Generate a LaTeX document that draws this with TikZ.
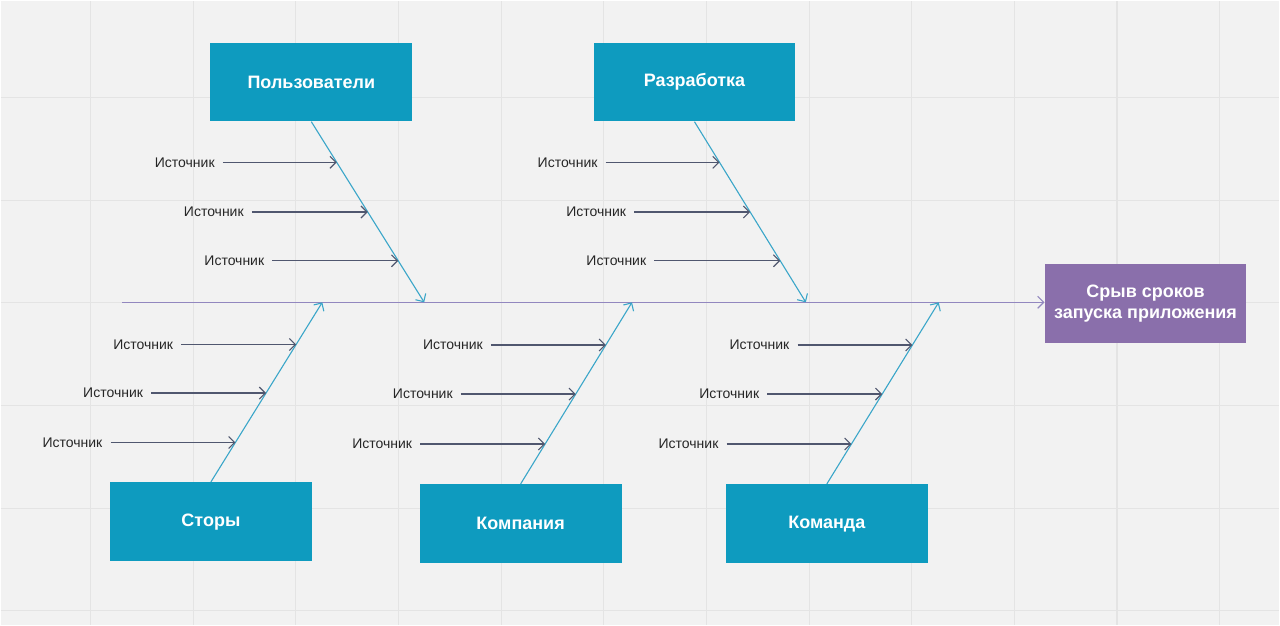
\documentclass[tikz,border=0pt]{standalone}
\usepackage{fontspec}
\setmainfont{Liberation Sans}
\usetikzlibrary{positioning,calc,arrows.meta}

\definecolor{canvas}{HTML}{F2F2F2}
\definecolor{gridgray}{HTML}{E4E4E4}
\definecolor{boxteal}{HTML}{0E9BBF}
\definecolor{boneteal}{HTML}{3AA6C9}
\definecolor{effectpurple}{HTML}{8A6FAB}
\definecolor{spinepurple}{HTML}{9287BF}
\definecolor{arrowslate}{HTML}{50576F}
\definecolor{labelgray}{HTML}{262626}

\tikzset{
  gridline/.style={draw=gridgray, line width=1.2pt},
  category/.style={fill=boxteal, text=white, font=\bfseries\fontsize{18}{21}\selectfont,
    minimum width=202pt, minimum height=79pt, inner sep=0pt, align=center},
  effect/.style={category, fill=effectpurple},
  source/.style={text=labelgray, font=\fontsize{14}{16}\selectfont, inner xsep=8pt, inner ysep=1pt},
  spine/.style={draw=spinepurple, line width=1.1pt, -{Straight Barb[length=6pt,width=12pt]}},
  bone/.style={draw=boneteal, line width=1.1pt, -{Straight Barb[length=6pt,width=12pt]}},
  cause/.style={draw=arrowslate, line width=1.1pt, -{Straight Barb[length=6pt,width=12pt]}}
}

\begin{document}
\begin{tikzpicture}[x=1pt, y=-1pt]
  \fill[canvas] (0,0) rectangle (1280,625);
  \begin{scope}[shift={(90,97)}]
    \draw[gridline, step=102.75pt] (-90,-97) grid (1190,528);
  \end{scope}
  \useasboundingbox (0,0) rectangle (1280,625);

  % categories and the problem
  \node[category] (users)   at (311,81.5)   {Пользователи};
  \node[category] (dev)     at (694.5,81.5) {Разработка};
  \node[category] (stores)  at (210.5,521.5) {Сторы};
  \node[category] (company) at (520.5,523.5) {Компания};
  \node[category] (team)    at (827,523.5)   {Команда};
  \node[effect]   (problem) at (1146,303.5)  {Срыв сроков\\запуска приложения};

  % spine
  \coordinate (tail) at (122,302);
  \draw[spine] (tail) -- (tail -| problem.west);

  % bones
  \coordinate (usersEnd)   at (424,302);
  \coordinate (devEnd)     at (806,302);
  \coordinate (storesEnd)  at (322,302);
  \coordinate (companyEnd) at (632,302);
  \coordinate (teamEnd)    at (939,302);
  \draw[bone] (users.south)   -- (usersEnd);
  \draw[bone] (dev.south)     -- (devEnd);
  \draw[bone] (stores.north)  -- (storesEnd);
  \draw[bone] (company.north) -- (companyEnd);
  \draw[bone] (team.north)    -- (teamEnd);

  % points on the bones
  \coordinate (u1) at ($(users.south)!0.225!(usersEnd)$);
  \coordinate (u2) at ($(users.south)!0.5!(usersEnd)$);
  \coordinate (u3) at ($(users.south)!0.77!(usersEnd)$);
  \coordinate (d1) at ($(dev.south)!0.225!(devEnd)$);
  \coordinate (d2) at ($(dev.south)!0.5!(devEnd)$);
  \coordinate (d3) at ($(dev.south)!0.77!(devEnd)$);
  \coordinate (s1) at ($(stores.north)!0.22!(storesEnd)$);
  \coordinate (s2) at ($(stores.north)!0.495!(storesEnd)$);
  \coordinate (s3) at ($(stores.north)!0.765!(storesEnd)$);
  \coordinate (c1) at ($(company.north)!0.22!(companyEnd)$);
  \coordinate (c2) at ($(company.north)!0.495!(companyEnd)$);
  \coordinate (c3) at ($(company.north)!0.765!(companyEnd)$);
  \coordinate (t1) at ($(team.north)!0.22!(teamEnd)$);
  \coordinate (t2) at ($(team.north)!0.495!(teamEnd)$);
  \coordinate (t3) at ($(team.north)!0.765!(teamEnd)$);

  % sources
  \node[source, left=114pt of u1] (u1src) {Источник};
  \node[source, left=116pt of u2] (u2src) {Источник};
  \node[source, left=126pt of u3] (u3src) {Источник};
  \node[source, left=114pt of d1] (d1src) {Источник};
  \node[source, left=116pt of d2] (d2src) {Источник};
  \node[source, left=126pt of d3] (d3src) {Источник};
  \node[source, left=125pt of s1] (s1src) {Источник};
  \node[source, left=115pt of s2] (s2src) {Источник};
  \node[source, left=115pt of s3] (s3src) {Источник};
  \node[source, left=125pt of c1] (c1src) {Источник};
  \node[source, left=115pt of c2] (c2src) {Источник};
  \node[source, left=115pt of c3] (c3src) {Источник};
  \node[source, left=125pt of t1] (t1src) {Источник};
  \node[source, left=115pt of t2] (t2src) {Источник};
  \node[source, left=115pt of t3] (t3src) {Источник};

  \draw[cause] (u1src) -- (u1);
  \draw[cause] (u2src) -- (u2);
  \draw[cause] (u3src) -- (u3);
  \draw[cause] (d1src) -- (d1);
  \draw[cause] (d2src) -- (d2);
  \draw[cause] (d3src) -- (d3);
  \draw[cause] (s1src) -- (s1);
  \draw[cause] (s2src) -- (s2);
  \draw[cause] (s3src) -- (s3);
  \draw[cause] (c1src) -- (c1);
  \draw[cause] (c2src) -- (c2);
  \draw[cause] (c3src) -- (c3);
  \draw[cause] (t1src) -- (t1);
  \draw[cause] (t2src) -- (t2);
  \draw[cause] (t3src) -- (t3);
\end{tikzpicture}
\end{document}
